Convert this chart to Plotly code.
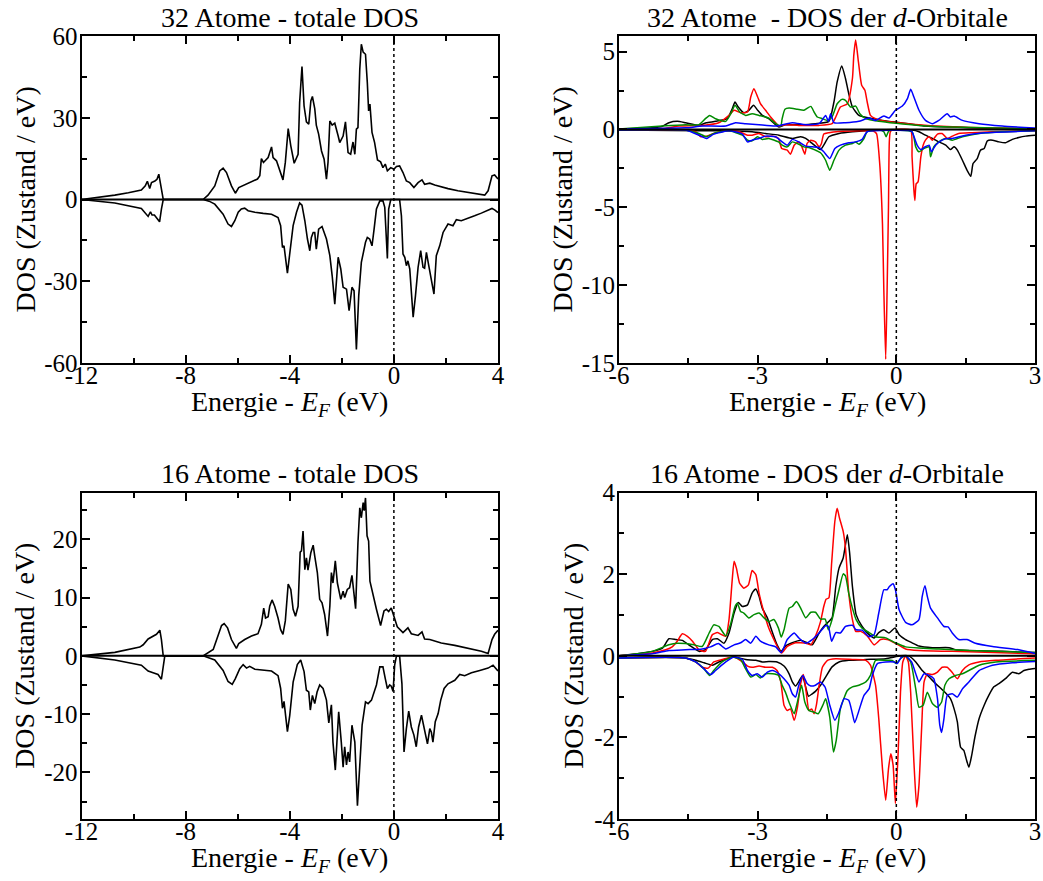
import plotly.graph_objects as go

# ---------------- data (energy in eV relative to E_F, DOS in states/eV) ----------------
# 32 atoms - total DOS
tl_up = [(-12.0, 0), (-11.0, 1.2), (-10.72, 1.6), (-10.2, 2.5), (-9.70, 3.5), (-9.55, 5.0), (-9.47, 6.7),
         (-9.38, 4.0), (-9.31, 6.2), (-9.18, 6.8), (-9.10, 7.4), (-9.03, 9.3), (-8.96, 6.0), (-8.90, 2.0),
         (-8.86, 0), (-7.33, 0), (-7.14, 1.6), (-6.88, 5.0), (-6.69, 10.5), (-6.56, 11.5), (-6.43, 9.9),
         (-6.24, 5.0), (-6.09, 2.3), (-5.96, 4.4), (-5.73, 5.3), (-5.47, 6.5), (-5.24, 7.5), (-5.15, 8.7),
         (-5.09, 15.0), (-5.01, 13.6), (-4.83, 15.4), (-4.70, 19.3), (-4.64, 15.4), (-4.51, 14.2),
         (-4.38, 10.5), (-4.26, 7.2), (-4.17, 13.6), (-4.06, 26.0), (-3.96, 19.7), (-3.83, 13.3),
         (-3.68, 16.6), (-3.62, 35.6), (-3.53, 48.8), (-3.45, 34.3), (-3.36, 28.5), (-3.27, 27.6),
         (-3.19, 36.2), (-3.13, 37.8), (-3.04, 33.4), (-2.98, 27.3), (-2.89, 24.0), (-2.78, 17.8),
         (-2.68, 14.8), (-2.59, 7.5), (-2.53, 13.6), (-2.46, 28.8), (-2.37, 27.3), (-2.27, 28.0),
         (-2.14, 23.3), (-2.08, 20.9), (-1.95, 23.3), (-1.86, 28.5), (-1.76, 17.2), (-1.66, 16.6),
         (-1.57, 21.1), (-1.50, 16.6), (-1.44, 25.8), (-1.38, 26.4), (-1.31, 47.8), (-1.25, 57.0),
         (-1.18, 54.1), (-1.09, 53.3), (-1.02, 42.9), (-0.97, 32.5), (-0.92, 35.0), (-0.84, 24.6),
         (-0.74, 20.9), (-0.63, 14.5), (-0.51, 13.8), (-0.42, 11.7), (-0.33, 13.0), (-0.25, 10.5),
         (-0.12, 11.7), (0.0, 11.1), (0.10, 12.1), (0.22, 12.3), (0.35, 9.9), (0.48, 6.8), (0.61, 6.2),
         (0.77, 4.4), (0.93, 6.2), (1.08, 7.2), (1.18, 5.6), (1.38, 6.0), (1.57, 5.3), (1.82, 4.8),
         (2.08, 4.0), (2.46, 3.2), (2.85, 2.6), (3.30, 2.0), (3.49, 1.6), (3.62, 3.2), (3.77, 8.7),
         (3.87, 9.0), (3.97, 7.8), (4.0, 7.5)]
tl_dn = [(-12.0, 0), (-10.72, -1.3), (-9.70, -3.3), (-9.50, -5.4), (-9.44, -6.2), (-9.35, -4.5), (-9.29, -5.7),
         (-9.20, -5.7), (-9.12, -6.6), (-9.00, -8.2), (-8.93, -3.5), (-8.86, 0), (-7.33, 0), (-7.10, -0.6),
         (-6.88, -1.7), (-6.56, -5.4), (-6.37, -9.0), (-6.24, -9.9), (-6.11, -7.8), (-5.98, -4.7),
         (-5.86, -3.5), (-5.73, -3.2), (-5.60, -4.1), (-5.34, -4.7), (-5.02, -5.1), (-4.70, -5.4),
         (-4.45, -6.6), (-4.35, -9.6), (-4.28, -17.6), (-4.22, -17.0), (-4.09, -27.0), (-4.00, -19.4),
         (-3.87, -9.6), (-3.74, -4.7), (-3.62, -1.3), (-3.53, -2.1), (-3.42, -7.8), (-3.32, -14.5),
         (-3.23, -18.8), (-3.17, -13.9), (-3.10, -12.1), (-3.04, -12.1), (-2.98, -18.2), (-2.89, -10.9),
         (-2.76, -9.9), (-2.59, -14.5), (-2.46, -20.6), (-2.37, -28.0), (-2.27, -38.4), (-2.14, -21.2),
         (-2.04, -25.5), (-1.95, -32.2), (-1.82, -32.9), (-1.72, -40.8), (-1.61, -32.2), (-1.53, -33.5),
         (-1.44, -55.0), (-1.35, -35.3), (-1.25, -23.1), (-1.09, -15.7), (-1.02, -13.9), (-0.93, -14.5),
         (-0.84, -17.0), (-0.76, -10.9), (-0.67, -3.5), (-0.54, -0.5), (-0.42, -0.5), (-0.35, -2.9),
         (-0.29, -12.1), (-0.25, -21.6), (-0.20, -3.5), (-0.12, 0), (0.22, 0), (0.29, -6.0), (0.35, -20.0),
         (0.42, -21.2), (0.48, -24.3), (0.54, -22.5), (0.61, -25.5), (0.67, -35.3), (0.74, -43.2),
         (0.83, -35.3), (0.93, -24.9), (1.03, -18.8), (1.12, -24.9), (1.18, -25.2), (1.25, -19.4),
         (1.34, -24.3), (1.44, -30.2), (1.54, -34.7), (1.63, -20.6), (1.76, -17.0), (1.89, -12.1),
         (2.08, -9.0), (2.27, -9.6), (2.40, -7.4), (2.59, -7.8), (2.85, -7.0), (3.10, -6.0), (3.36, -5.0),
         (3.62, -4.1), (3.77, -3.3), (3.87, -3.8), (3.97, -4.7), (4.0, -4.8)]

# 16 atoms - total DOS
bl_up = [(-12.0, 0), (-10.72, 0.6), (-9.76, 1.5), (-9.63, 1.9), (-9.44, 2.9), (-9.25, 3.3), (-9.12, 3.7),
         (-8.99, 4.4), (-8.93, 2.8), (-8.86, 0), (-7.33, 0), (-6.94, 1.1), (-6.75, 3.4), (-6.62, 5.2),
         (-6.52, 5.55), (-6.39, 4.8), (-6.24, 2.8), (-6.05, 1.3), (-5.96, 2.1), (-5.73, 2.8), (-5.47, 3.4),
         (-5.22, 3.8), (-5.09, 5.4), (-5.00, 8.2), (-4.93, 6.5), (-4.83, 6.7), (-4.77, 8.5), (-4.68, 9.6),
         (-4.58, 8.5), (-4.45, 6.5), (-4.35, 4.5), (-4.26, 3.7), (-4.17, 6.0), (-4.06, 12.3), (-3.96, 11.4),
         (-3.87, 8.0), (-3.78, 6.8), (-3.68, 8.5), (-3.60, 17.8), (-3.55, 18.0), (-3.49, 21.4),
         (-3.42, 14.8), (-3.36, 16.8), (-3.30, 14.7), (-3.19, 17.7), (-3.10, 19.0), (-3.04, 17.1),
         (-2.94, 14.3), (-2.85, 9.7), (-2.76, 9.1), (-2.66, 7.1), (-2.55, 3.4), (-2.46, 8.5), (-2.40, 14.3),
         (-2.34, 12.5), (-2.25, 16.3), (-2.17, 12.5), (-2.04, 9.7), (-1.95, 11.1), (-1.89, 10.0),
         (-1.79, 11.4), (-1.70, 11.7), (-1.61, 13.8), (-1.53, 10.8), (-1.47, 8.1), (-1.38, 19.4),
         (-1.31, 25.4), (-1.25, 23.7), (-1.18, 26.3), (-1.14, 24.9), (-1.09, 27.1), (-1.03, 20.6),
         (-0.97, 19.7), (-0.92, 12.8), (-0.80, 10.2), (-0.67, 8.0), (-0.51, 5.2), (-0.38, 7.7), (-0.29, 8.0),
         (-0.20, 7.6), (-0.10, 8.2), (0.01, 6.8), (0.13, 5.0), (0.35, 4.0), (0.54, 4.8), (0.67, 3.8),
         (0.93, 3.5), (1.08, 4.1), (1.18, 2.9), (1.38, 2.8), (1.82, 2.2), (2.34, 1.8), (2.85, 1.3),
         (3.36, 0.8), (3.62, 0.4), (3.77, 2.8), (3.87, 3.7), (4.0, 4.4)]
bl_dn = [(-12.0, 0), (-10.72, -0.7), (-9.70, -1.6), (-9.44, -2.6), (-9.25, -2.9), (-9.06, -3.2), (-8.93, -4.0),
         (-8.86, -1.6), (-8.80, 0), (-7.33, 0), (-6.88, -0.7), (-6.56, -2.5), (-6.37, -4.4), (-6.21, -4.9),
         (-6.09, -3.9), (-5.92, -2.2), (-5.79, -1.5), (-5.66, -2.1), (-5.54, -1.8), (-5.34, -2.3),
         (-5.02, -2.5), (-4.70, -2.6), (-4.45, -3.4), (-4.35, -5.6), (-4.28, -9.0), (-4.22, -7.8),
         (-4.09, -13.0), (-4.00, -10.2), (-3.87, -4.5), (-3.71, -1.5), (-3.58, -0.7), (-3.45, -2.7),
         (-3.36, -5.9), (-3.27, -6.2), (-3.21, -9.3), (-3.13, -6.8), (-3.04, -8.2), (-2.95, -6.2),
         (-2.85, -5.0), (-2.72, -5.6), (-2.59, -7.6), (-2.50, -11.5), (-2.40, -8.4), (-2.34, -14.8),
         (-2.25, -19.6), (-2.12, -9.6), (-2.02, -14.8), (-1.95, -19.1), (-1.89, -15.6), (-1.82, -18.7),
         (-1.76, -16.5), (-1.70, -18.2), (-1.61, -11.9), (-1.50, -14.8), (-1.40, -25.7), (-1.31, -18.8),
         (-1.22, -11.9), (-1.09, -7.9), (-0.99, -8.2), (-0.86, -7.6), (-0.76, -6.2), (-0.67, -5.0),
         (-0.54, -1.9), (-0.42, -1.9), (-0.33, -3.9), (-0.25, -5.6), (-0.16, -5.0), (-0.10, -5.2),
         (-0.03, -6.1), (0.03, -1.6), (0.10, 0), (0.22, 0), (0.31, -4.8), (0.39, -16.5), (0.48, -12.5),
         (0.57, -9.5), (0.67, -12.2), (0.77, -13.6), (0.86, -15.6), (0.95, -12.2), (1.06, -10.2),
         (1.18, -13.1), (1.29, -15.1), (1.38, -12.5), (1.44, -13.1), (1.50, -14.8), (1.59, -11.3),
         (1.70, -9.9), (1.80, -7.6), (1.93, -5.6), (2.08, -4.8), (2.34, -4.2), (2.53, -3.2), (2.72, -3.4),
         (2.98, -2.9), (3.30, -2.5), (3.62, -2.1), (3.81, -1.6), (4.0, -2.6)]

# 32 atoms - d-orbital DOS (spin up / spin down), four orbitals
tr_black_up = [(-6, 0.02), (-5.28, 0.1), (-5.06, 0.2), (-4.92, 0.43), (-4.74, 0.52), (-4.56, 0.43), (-4.27, 0.26),
               (-4.11, 0.43), (-3.91, 0.52), (-3.66, 0.69), (-3.55, 1.33), (-3.49, 1.76), (-3.42, 1.44),
               (-3.30, 1.07), (-3.19, 1.23), (-3.09, 1.55), (-3.00, 1.23), (-2.90, 0.90), (-2.76, 0.69),
               (-2.61, 0.30), (-2.54, 0.15), (-2.40, 0.30), (-2.11, 0.30), (-1.75, 0.37), (-1.46, 0.52),
               (-1.35, 1.76), (-1.28, 3.05), (-1.18, 4.08), (-1.10, 3.27), (-1.03, 2.30), (-0.95, 1.44),
               (-0.81, 0.90), (-0.59, 0.73), (-0.30, 0.58), (-0.02, 0.47), (0.27, 0.37), (0.63, 0.22),
               (1.21, 0.15), (1.93, 0.08), (3.0, 0.04)]
tr_red_up = [(-6, 0.03), (-5.06, 0.06), (-4.70, 0.22), (-4.20, 0.26), (-3.84, 0.43), (-3.62, 0.90), (-3.51, 1.23),
             (-3.37, 1.07), (-3.22, 1.12), (-3.15, 2.08), (-3.08, 2.62), (-3.00, 2.08), (-2.94, 1.65),
             (-2.83, 1.23), (-2.72, 0.80), (-2.61, 0.43), (-2.54, 0.22), (-2.40, 0.30), (-2.11, 0.26),
             (-1.67, 0.26), (-1.39, 0.37), (-1.31, 0.80), (-1.21, 1.44), (-1.06, 1.65), (-0.95, 3.27),
             (-0.92, 4.77), (-0.88, 5.74), (-0.82, 4.34), (-0.75, 2.84), (-0.68, 2.51), (-0.63, 1.76),
             (-0.56, 0.90), (-0.45, 0.69), (-0.23, 0.52), (0.06, 0.43), (0.34, 0.34), (0.85, 0.22),
             (1.57, 0.13), (3.0, 0.04)]
tr_green_up = [(-6, 0.03), (-5.06, 0.22), (-4.56, 0.30), (-4.27, 0.30), (-4.13, 0.69), (-4.04, 0.90), (-3.91, 0.69),
               (-3.69, 0.52), (-3.58, 1.01), (-3.49, 1.55), (-3.39, 1.12), (-3.26, 0.90), (-3.12, 1.01),
               (-2.97, 0.90), (-2.76, 0.73), (-2.61, 0.37), (-2.50, 0.22), (-2.47, 0.69), (-2.41, 1.29),
               (-2.32, 1.37), (-2.14, 1.29), (-2.00, 1.23), (-1.85, 1.48), (-1.78, 1.12), (-1.71, 0.80),
               (-1.60, 0.69), (-1.49, 0.58), (-1.39, 0.80), (-1.28, 1.65), (-1.18, 1.93), (-1.10, 1.87),
               (-0.99, 1.44), (-0.88, 1.50), (-0.79, 1.01), (-0.66, 0.69), (-0.38, 0.52), (0.0, 0.39),
               (0.49, 0.26), (1.21, 0.15), (3.0, 0.04)]
tr_blue_up = [(-6, 0.03), (-4.56, 0.10), (-4.20, 0.22), (-3.69, 0.22), (-3.48, 0.43), (-3.26, 0.37), (-2.97, 0.30),
              (-2.61, 0.22), (-2.25, 0.43), (-1.96, 0.30), (-1.67, 0.37), (-1.53, 0.90), (-1.47, 0.52),
              (-1.42, 1.01), (-1.35, 0.43), (-1.10, 0.43), (-0.81, 0.52), (-0.59, 0.73), (-0.45, 0.58),
              (-0.27, 0.86), (-0.16, 0.73), (-0.02, 1.23), (0.13, 1.50), (0.24, 1.98), (0.31, 2.58),
              (0.38, 2.08), (0.49, 1.23), (0.63, 0.58), (0.78, 0.37), (0.92, 0.58), (1.10, 1.01), (1.17, 0.80),
              (1.25, 0.86), (1.43, 0.58), (1.79, 0.37), (2.29, 0.22), (3.0, 0.09)]
tr_black_dn = [(-6, -0.04), (-4.27, -0.09), (-3.84, -0.09), (-3.12, -0.15), (-2.83, -0.26), (-2.54, -0.37),
               (-2.25, -0.58), (-2.07, -0.47), (-1.96, -0.58), (-1.82, -0.90), (-1.71, -1.16), (-1.64, -1.29),
               (-1.57, -1.01), (-1.46, -0.47), (-1.24, -0.26), (-0.95, -0.15), (-0.38, -0.04), (0.34, -0.04),
               (0.49, -0.15), (0.63, -0.37), (0.78, -0.58), (0.92, -0.80), (1.07, -1.01), (1.17, -1.29),
               (1.25, -1.12), (1.32, -1.33), (1.43, -1.98), (1.53, -2.62), (1.61, -3.01), (1.66, -2.19),
               (1.75, -1.87), (1.82, -1.33), (1.90, -1.22), (1.97, -0.73), (2.08, -0.69), (2.22, -0.80),
               (2.36, -0.86), (2.51, -0.64), (2.65, -0.52), (2.80, -0.43), (3.0, -0.37)]
tr_red_dn = [(-6, -0.04), (-4.56, -0.04), (-4.34, -0.15), (-4.23, -0.47), (-4.11, -0.43), (-3.95, -0.26),
             (-3.62, -0.09), (-3.40, -0.15), (-3.22, -0.37), (-3.12, -0.37), (-2.97, -0.26), (-2.83, -0.47),
             (-2.68, -0.43), (-2.55, -0.58), (-2.48, -1.22), (-2.36, -1.33), (-2.29, -1.59), (-2.21, -1.01),
             (-2.11, -0.80), (-2.05, -1.07), (-1.98, -1.59), (-1.93, -0.90), (-1.85, -0.69), (-1.75, -0.80),
             (-1.67, -1.12), (-1.62, -0.90), (-1.57, -0.30), (-1.46, -0.21), (-1.24, -0.13), (-0.81, -0.09),
             (-0.52, -0.09), (-0.43, -0.26), (-0.36, -2.19), (-0.30, -6.06), (-0.27, -10.36), (-0.23, -14.76),
             (-0.20, -10.36), (-0.17, -4.99), (-0.15, -0.69), (-0.12, -0.09), (0.31, -0.04), (0.34, -1.76),
             (0.38, -3.91), (0.40, -4.56), (0.43, -3.48), (0.47, -3.37), (0.53, -1.76), (0.58, -1.01),
             (0.63, -0.69), (0.71, -0.47), (0.78, -0.69), (0.89, -0.30), (0.99, -0.26), (1.10, -0.58),
             (1.21, -0.43), (1.35, -0.26), (1.64, -0.21), (2.08, -0.15), (3.0, -0.09)]
tr_green_dn = [(-6, -0.04), (-4.56, -0.04), (-4.27, -0.26), (-4.11, -0.47), (-3.91, -0.21), (-3.62, -0.09),
               (-3.33, -0.37), (-3.22, -0.69), (-3.12, -0.73), (-3.00, -0.47), (-2.90, -0.64), (-2.76, -0.58),
               (-2.55, -0.80), (-2.47, -1.01), (-2.36, -1.12), (-2.25, -0.80), (-2.11, -0.95), (-2.00, -1.12),
               (-1.89, -1.16), (-1.75, -1.33), (-1.64, -1.50), (-1.53, -1.98), (-1.44, -2.62), (-1.35, -1.98),
               (-1.24, -1.33), (-1.10, -1.01), (-0.95, -0.90), (-0.88, -0.80), (-0.81, -0.95), (-0.70, -0.58),
               (-0.63, -0.15), (-0.38, -0.04), (-0.27, -0.15), (-0.22, -0.47), (-0.16, -0.09), (0.34, -0.15),
               (0.42, -1.12), (0.49, -1.44), (0.60, -1.22), (0.71, -1.12), (0.74, -1.76), (0.81, -1.12),
               (0.92, -0.80), (1.07, -0.58), (1.21, -0.69), (1.43, -0.47), (1.79, -0.26), (2.29, -0.15),
               (3.0, -0.09)]
tr_blue_dn = [(-6, -0.04), (-4.56, -0.04), (-4.27, -0.37), (-4.11, -0.58), (-3.95, -0.30), (-3.62, -0.09),
              (-3.33, -0.30), (-3.22, -0.80), (-3.12, -0.69), (-2.97, -0.58), (-2.83, -0.43), (-2.61, -0.47),
              (-2.47, -0.80), (-2.36, -1.01), (-2.25, -0.64), (-2.11, -0.80), (-1.96, -1.07), (-1.82, -1.12),
              (-1.67, -1.16), (-1.57, -1.44), (-1.44, -1.87), (-1.33, -1.22), (-1.21, -1.01), (-1.03, -0.86),
              (-0.88, -0.80), (-0.74, -0.64), (-0.63, -0.15), (0.30, -0.09), (0.34, -0.15), (0.45, -1.01),
              (0.53, -1.29), (0.62, -1.12), (0.71, -1.01), (0.76, -1.44), (0.85, -1.01), (0.99, -0.69),
              (1.10, -0.58), (1.21, -0.58), (1.50, -0.37), (1.93, -0.21), (3.0, -0.09)]

# 16 atoms - d-orbital DOS
br_black_up = [(-6, 0.0), (-5.28, 0.11), (-5.06, 0.19), (-4.92, 0.42), (-4.77, 0.40), (-4.63, 0.38), (-4.49, 0.27),
               (-4.27, 0.11), (-4.13, 0.15), (-3.98, 0.40), (-3.87, 0.42), (-3.73, 0.31), (-3.62, 0.56),
               (-3.51, 1.05), (-3.42, 1.31), (-3.33, 1.21), (-3.22, 1.25), (-3.12, 1.54), (-3.04, 1.64),
               (-2.97, 1.46), (-2.90, 1.17), (-2.79, 0.93), (-2.68, 0.57), (-2.58, 0.27), (-2.49, 0.11),
               (-2.40, 0.24), (-2.25, 0.32), (-2.07, 0.38), (-1.93, 0.32), (-1.82, 0.27), (-1.67, 0.56),
               (-1.57, 0.72), (-1.46, 0.84), (-1.39, 0.93), (-1.31, 1.70), (-1.24, 2.15), (-1.15, 2.40),
               (-1.06, 2.97), (-1.01, 2.52), (-0.95, 1.70), (-0.87, 1.01), (-0.74, 0.72), (-0.59, 0.52),
               (-0.48, 0.44), (-0.38, 0.57), (-0.27, 0.64), (-0.16, 0.56), (-0.03, 0.68), (0.06, 0.52),
               (0.20, 0.40), (0.34, 0.32), (0.49, 0.24), (0.78, 0.20), (1.14, 0.20), (1.28, 0.15), (1.57, 0.13),
               (2.29, 0.11), (3.0, 0.08)]
br_red_up = [(-6, 0.0), (-5.28, 0.07), (-4.99, 0.15), (-4.85, 0.22), (-4.74, 0.36), (-4.63, 0.54), (-4.52, 0.48),
             (-4.41, 0.36), (-4.27, 0.15), (-4.13, 0.11), (-3.98, 0.52), (-3.87, 0.57), (-3.69, 0.48),
             (-3.62, 0.89), (-3.55, 1.87), (-3.51, 2.32), (-3.46, 2.15), (-3.39, 1.78), (-3.30, 1.66),
             (-3.20, 1.74), (-3.12, 2.09), (-3.04, 1.99), (-2.97, 1.54), (-2.86, 1.05), (-2.76, 0.68),
             (-2.65, 0.40), (-2.54, 0.15), (-2.48, 0.07), (-2.36, 0.23), (-2.18, 0.32), (-1.96, 0.31),
             (-1.85, 0.27), (-1.75, 0.48), (-1.64, 0.84), (-1.57, 1.21), (-1.52, 1.39), (-1.46, 1.42),
             (-1.40, 2.27), (-1.33, 3.30), (-1.28, 3.62), (-1.23, 3.38), (-1.15, 3.05), (-1.10, 2.64),
             (-1.03, 1.54), (-0.95, 0.89), (-0.88, 0.60), (-0.77, 0.60), (-0.63, 0.49), (-0.48, 0.27),
             (-0.34, 0.40), (-0.20, 0.40), (-0.02, 0.31), (0.20, 0.17), (0.49, 0.13), (1.21, 0.11), (3.0, 0.05)]
br_green_up = [(-6, 0.0), (-5.28, 0.11), (-4.92, 0.27), (-4.74, 0.31), (-4.56, 0.30), (-4.38, 0.27), (-4.20, 0.23),
               (-4.05, 0.56), (-3.95, 0.76), (-3.84, 0.72), (-3.69, 0.49), (-3.58, 0.80), (-3.49, 1.21),
               (-3.44, 1.29), (-3.37, 1.09), (-3.30, 1.05), (-3.19, 0.93), (-3.08, 1.01), (-2.97, 1.05),
               (-2.86, 0.93), (-2.76, 0.84), (-2.65, 0.89), (-2.55, 0.68), (-2.49, 0.46), (-2.43, 0.64),
               (-2.32, 1.17), (-2.25, 1.21), (-2.16, 1.33), (-2.07, 1.17), (-1.96, 0.93), (-1.85, 1.07),
               (-1.75, 1.07), (-1.64, 0.90), (-1.54, 0.90), (-1.47, 0.64), (-1.39, 0.89), (-1.31, 1.29),
               (-1.24, 1.62), (-1.15, 2.01), (-1.10, 1.96), (-1.03, 1.54), (-0.95, 1.17), (-0.87, 0.89),
               (-0.74, 0.68), (-0.59, 0.57), (-0.45, 0.47), (-0.23, 0.44), (-0.02, 0.32), (0.20, 0.22),
               (0.49, 0.19), (0.92, 0.17), (1.57, 0.13), (3.0, 0.08)]
br_blue_up = [(-6, 0.0), (-5.28, 0.05), (-4.92, 0.13), (-4.56, 0.15), (-4.20, 0.17), (-4.02, 0.22), (-3.85, 0.30),
              (-3.69, 0.17), (-3.51, 0.27), (-3.37, 0.32), (-3.26, 0.40), (-3.15, 0.31), (-3.04, 0.48),
              (-2.94, 0.36), (-2.76, 0.27), (-2.61, 0.22), (-2.49, 0.08), (-2.36, 0.40), (-2.21, 0.56),
              (-2.11, 0.44), (-1.96, 0.31), (-1.82, 0.40), (-1.67, 0.56), (-1.53, 0.74), (-1.47, 0.72),
              (-1.40, 0.36), (-1.31, 0.57), (-1.21, 0.56), (-1.10, 0.72), (-0.95, 0.75), (-0.87, 0.64),
              (-0.74, 0.63), (-0.59, 0.47), (-0.48, 0.52), (-0.38, 1.05), (-0.27, 1.62), (-0.20, 1.62),
              (-0.15, 1.70), (-0.07, 1.77), (-0.02, 1.62), (0.06, 1.13), (0.20, 0.82), (0.34, 0.76), (0.49, 0.89),
              (0.56, 1.46), (0.62, 1.72), (0.67, 1.46), (0.74, 1.17), (0.89, 0.93), (1.03, 0.72), (1.12, 0.71),
              (1.21, 0.56), (1.35, 0.40), (1.53, 0.40), (1.71, 0.31), (2.08, 0.23), (2.65, 0.15), (3.0, 0.06)]
br_black_dn = [(-6, -0.05), (-4.56, -0.05), (-4.34, -0.11), (-4.16, -0.17), (-3.98, -0.23), (-3.84, -0.15),
               (-3.51, -0.03), (-3.26, -0.09), (-3.04, -0.11), (-2.90, -0.15), (-2.76, -0.14), (-2.58, -0.15),
               (-2.43, -0.25), (-2.32, -0.44), (-2.25, -0.64), (-2.18, -0.74), (-2.11, -0.63), (-2.03, -0.48),
               (-1.98, -0.68), (-1.90, -0.99), (-1.82, -0.93), (-1.75, -0.87), (-1.64, -0.72), (-1.53, -0.52),
               (-1.39, -0.27), (-1.24, -0.15), (-1.03, -0.11), (-0.66, -0.09), (-0.23, -0.07), (0.09, 0.0),
               (0.27, 0.0), (0.42, -0.15), (0.56, -0.36), (0.71, -0.52), (0.85, -0.68), (1.03, -0.87),
               (1.17, -1.05), (1.25, -1.30), (1.32, -1.62), (1.39, -2.24), (1.46, -2.32), (1.51, -2.52),
               (1.57, -2.73), (1.63, -2.44), (1.70, -1.99), (1.79, -1.54), (1.90, -1.21), (2.00, -0.97),
               (2.11, -0.76), (2.22, -0.68), (2.36, -0.56), (2.51, -0.40), (2.65, -0.44), (2.76, -0.36),
               (2.87, -0.33), (3.0, -0.31)]
br_red_dn = [(-6, -0.05), (-4.56, -0.05), (-4.34, -0.15), (-4.20, -0.28), (-4.07, -0.30), (-3.95, -0.15),
             (-3.77, -0.09), (-3.51, -0.03), (-3.33, -0.15), (-3.22, -0.25), (-3.12, -0.28), (-2.97, -0.25),
             (-2.83, -0.28), (-2.68, -0.28), (-2.58, -0.36), (-2.50, -0.64), (-2.43, -1.21), (-2.36, -1.34),
             (-2.29, -1.30), (-2.21, -1.58), (-2.14, -1.26), (-2.07, -0.68), (-2.01, -0.46), (-1.95, -0.89),
             (-1.89, -1.34), (-1.83, -1.30), (-1.78, -1.42), (-1.73, -1.21), (-1.67, -0.72), (-1.60, -0.28),
             (-1.49, -0.11), (-1.31, -0.07), (-0.95, -0.09), (-0.66, -0.11), (-0.56, -0.23), (-0.45, -0.72),
             (-0.38, -1.54), (-0.30, -2.77), (-0.23, -3.54), (-0.17, -2.77), (-0.12, -2.40), (-0.07, -2.68),
             (-0.02, -3.62), (0.04, -2.36), (0.09, -0.89), (0.14, -0.15), (0.20, 0.0), (0.26, -0.15),
             (0.31, -0.89), (0.38, -2.60), (0.44, -3.71), (0.49, -3.17), (0.55, -1.70), (0.60, -0.64),
             (0.67, -0.44), (0.78, -0.46), (0.89, -0.40), (0.99, -0.28), (1.10, -0.28), (1.21, -0.41),
             (1.32, -0.56), (1.43, -0.36), (1.57, -0.22), (1.79, -0.15), (2.15, -0.11), (3.0, -0.05)]
br_green_dn = [(-6, -0.05), (-4.56, -0.05), (-4.34, -0.15), (-4.16, -0.32), (-4.04, -0.48), (-3.95, -0.36),
               (-3.77, -0.15), (-3.55, -0.03), (-3.37, -0.09), (-3.26, -0.32), (-3.15, -0.52), (-3.04, -0.46),
               (-2.94, -0.54), (-2.83, -0.44), (-2.68, -0.44), (-2.55, -0.48), (-2.47, -0.72), (-2.40, -0.89),
               (-2.31, -1.17), (-2.21, -1.42), (-2.14, -1.13), (-2.05, -0.72), (-1.98, -1.13), (-1.89, -1.34),
               (-1.78, -1.38), (-1.69, -1.42), (-1.59, -1.21), (-1.53, -1.05), (-1.44, -1.50), (-1.36, -2.36),
               (-1.30, -2.07), (-1.21, -1.30), (-1.06, -0.85), (-0.95, -0.76), (-0.81, -0.72), (-0.66, -0.64),
               (-0.56, -0.48), (-0.45, -0.11), (-0.23, -0.11), (-0.09, -0.11), (0.00, -0.19), (0.09, -0.07),
               (0.20, 0.0), (0.31, -0.15), (0.42, -0.81), (0.49, -1.26), (0.58, -1.21), (0.67, -0.89),
               (0.78, -1.17), (0.89, -1.26), (0.98, -1.13), (1.05, -0.72), (1.14, -0.56), (1.28, -0.48),
               (1.43, -0.44), (1.57, -0.36), (1.79, -0.23), (2.15, -0.15), (3.0, -0.11)]
br_blue_dn = [(-6, -0.05), (-4.56, -0.05), (-4.34, -0.15), (-4.16, -0.32), (-4.02, -0.46), (-3.91, -0.36),
              (-3.69, -0.15), (-3.51, -0.03), (-3.33, -0.09), (-3.22, -0.36), (-3.12, -0.48), (-3.01, -0.44),
              (-2.90, -0.52), (-2.79, -0.40), (-2.68, -0.36), (-2.54, -0.44), (-2.43, -0.56), (-2.32, -0.72),
              (-2.25, -0.93), (-2.18, -1.01), (-2.11, -0.72), (-2.02, -0.48), (-1.93, -0.68), (-1.85, -0.74),
              (-1.75, -0.72), (-1.64, -0.64), (-1.54, -0.77), (-1.44, -1.21), (-1.33, -1.58), (-1.24, -1.38),
              (-1.13, -1.05), (-1.03, -1.09), (-0.95, -1.42), (-0.90, -1.64), (-0.82, -1.38), (-0.70, -0.97),
              (-0.59, -0.81), (-0.52, -0.48), (-0.41, -0.19), (-0.23, -0.15), (-0.05, -0.15), (0.02, -0.19),
              (0.11, -0.03), (0.20, 0.0), (0.33, -0.15), (0.42, -0.44), (0.49, -0.64), (0.60, -0.44),
              (0.71, -0.48), (0.81, -0.56), (0.89, -1.05), (0.94, -1.70), (0.98, -1.88), (1.03, -1.54),
              (1.10, -0.97), (1.21, -0.93), (1.32, -1.01), (1.43, -0.81), (1.57, -0.64), (1.79, -0.36),
              (2.08, -0.23), (2.51, -0.17), (3.0, -0.14)]

# axis ticks / labels
left_xticks = [-12, -8, -4, 0, 4]
right_xticks = [-6, -3, 0, 3]
tl_yticks = [-60, -30, 0, 30, 60]
tr_yticks = [-15, -10, -5, 0, 5]
bl_yticks = [-20, -10, 0, 10, 20]
br_yticks = [-4, -2, 0, 2, 4]

titles = ["32 Atome - totale DOS", "32 Atome \u00a0- DOS der <i>d</i>-Orbitale",
          "16 Atome - totale DOS", "16 Atome - DOS der <i>d</i>-Orbitale"]
xlabel = "Energie - <i>E</i><sub><i>F</i></sub> (eV)"
ylabel = "DOS (Zustand / eV)"

# ---------------- figure ----------------
W, H = 1043, 881
FONT = "Liberation Serif"
COL = {"black": "#000000", "red": "#ff0000", "green": "#008b00", "blue": "#0000ff"}

fig = go.Figure()


def add(series, color, xa, ya, width=1.6, smooth=False):
    xs = [p[0] for p in series]
    ys = [p[1] for p in series]
    line = dict(color=COL[color], width=width)
    if smooth:
        line.update(shape="spline", smoothing=0.5)
    fig.add_trace(go.Scatter(x=xs, y=ys, mode="lines", xaxis=xa, yaxis=ya,
                             line=line, showlegend=False, hoverinfo="skip"))


add(tl_up, "black", "x", "y")
add(tl_dn, "black", "x", "y")
for s, c in [(tr_black_up, "black"), (tr_black_dn, "black"), (tr_red_up, "red"), (tr_red_dn, "red"),
             (tr_green_up, "green"), (tr_green_dn, "green"), (tr_blue_up, "blue"), (tr_blue_dn, "blue")]:
    add(s, c, "x2", "y2", 1.5, True)
add(bl_up, "black", "x3", "y3")
add(bl_dn, "black", "x3", "y3")
for s, c in [(br_black_up, "black"), (br_black_dn, "black"), (br_red_up, "red"), (br_red_dn, "red"),
             (br_green_up, "green"), (br_green_dn, "green"), (br_blue_up, "blue"), (br_blue_dn, "blue")]:
    add(s, c, "x4", "y4", 1.5, True)

# plot-area pixel boxes: (left, right, top, bottom)
boxes = [(81.5, 498, 36, 363), (619, 1035, 36, 363), (81.5, 498, 492.7, 819), (619, 1035, 492.7, 819)]


def xdom(b):
    return [b[0] / W, b[1] / W]


def ydom(b):
    return [1 - b[3] / H, 1 - b[2] / H]


def axis(dom, rng, tickvals, minor_dtick, anchor, standoff):
    return dict(domain=dom, range=rng, anchor=anchor, tickmode="array", tickvals=tickvals,
                ticktext=[str(v) for v in tickvals], showline=True, linecolor="black", linewidth=2,
                mirror="ticks", ticks="inside", ticklen=8, tickwidth=1.5, tickcolor="black",
                showgrid=False, zeroline=False, automargin=False, ticklabelstandoff=standoff,
                tickfont=dict(family=FONT, size=25, color="black"),
                minor=dict(ticks="inside", ticklen=5, tickwidth=1.5, tickcolor="black",
                           dtick=minor_dtick, tick0=0, showgrid=False))


xr = [[-12, 4], [-6, 3], [-12, 4], [-6, 3]]
yr = [[-60, 60], [-15, 6], [-28, 28], [-4, 4]]
xt = [left_xticks, right_xticks, left_xticks, right_xticks]
yt = [tl_yticks, tr_yticks, bl_yticks, br_yticks]
xm = [2, 1.5, 2, 1.5]
ym = [15, 2.5, 5, 1]

layout = dict(width=W, height=H, autosize=False,
              margin=dict(l=0, r=0, t=0, b=0, pad=0, autoexpand=False), plot_bgcolor="white",
              paper_bgcolor="white", showlegend=False, font=dict(family=FONT, color="black"))
ids = ["", "2", "3", "4"]
for i, b in enumerate(boxes):
    layout["xaxis" + ids[i]] = axis(xdom(b), xr[i], xt[i], xm[i], "y" + ids[i], -11)
    layout["yaxis" + ids[i]] = axis(ydom(b), yr[i], yt[i], ym[i], "x" + ids[i], -3)
fig.update_layout(**layout)

shapes = []
ann = []
ytitle_x = [25, 562, 25, 574]
for i, b in enumerate(boxes):
    xa, ya = "x" + ids[i], "y" + ids[i]
    # zero line
    shapes.append(dict(type="line", xref=xa + " domain", yref=ya, x0=0, x1=1, y0=0, y1=0,
                       line=dict(color="black", width=2)))
    # Fermi level
    shapes.append(dict(type="line", xref=xa, yref=ya + " domain", x0=0, x1=0, y0=0, y1=1,
                       line=dict(color="black", width=1.5, dash="dot")))
    cx = (b[0] + b[1]) / 2 / W
    ann.append(dict(text=titles[i], xref="paper", yref="paper", x=cx, y=1 - (b[2] - 19) / H,
                    xanchor="center", yanchor="middle", showarrow=False,
                    font=dict(family=FONT, size=28, color="black")))
    ann.append(dict(text=xlabel, xref="paper", yref="paper", x=cx, y=1 - (b[3] + 40) / H,
                    xanchor="center", yanchor="middle", showarrow=False,
                    font=dict(family=FONT, size=28, color="black")))
    ann.append(dict(text=ylabel, xref="paper", yref="paper", x=ytitle_x[i] / W,
                    y=1 - (b[2] + b[3]) / 2 / H, xanchor="center", yanchor="middle", textangle=-90,
                    showarrow=False, font=dict(family=FONT, size=28, color="black")))
fig.update_layout(shapes=shapes, annotations=ann)

fig.write_html("out.html", post_script="document.body.style.margin='0px';document.body.style.overflow='hidden';")
